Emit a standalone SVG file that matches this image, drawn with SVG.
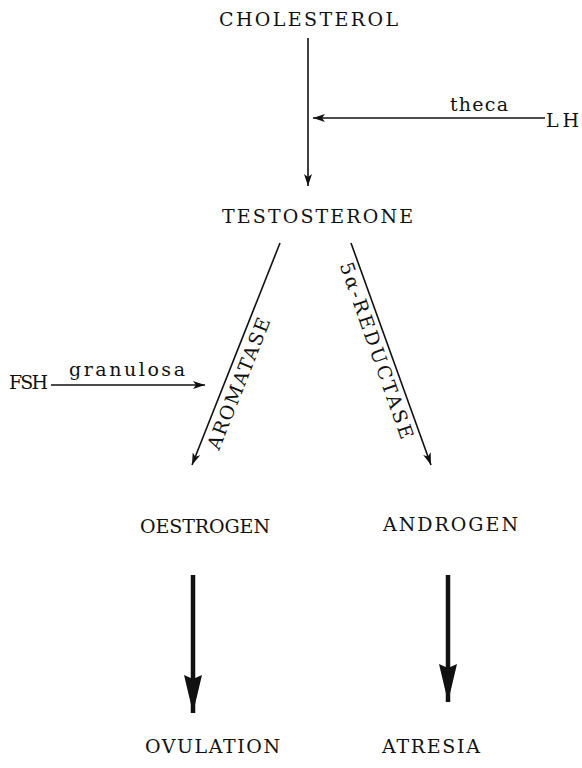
<svg xmlns="http://www.w3.org/2000/svg" width="582" height="768" viewBox="0 0 582 768">
<style>
text{font-family:"DejaVu Serif","Liberation Serif",serif;font-size:19px;fill:#111}
.thin{stroke:#111;stroke-width:1.6;fill:none}
.thick{stroke:#111;stroke-width:4.5;fill:none}
</style>
<defs>
<marker id="ah" viewBox="0 0 12 8" refX="12" refY="4" markerWidth="12" markerHeight="8" markerUnits="userSpaceOnUse" orient="auto">
<path d="M0,0 L12,4 L0,8 L3,4 Z" fill="#111"/>
</marker>
<marker id="big" viewBox="0 0 38 18" refX="38" refY="9" markerWidth="38" markerHeight="18" markerUnits="userSpaceOnUse" orient="auto">
<path d="M0,0 L38,9 L0,18 L4,9 Z" fill="#111"/>
</marker>
</defs>
<g id="connectors">
<line class="thin" x1="308" y1="38" x2="308" y2="186" marker-end="url(#ah)"/>
<line class="thin" x1="545" y1="118" x2="313" y2="118" marker-end="url(#ah)"/>
<line class="thin" x1="51" y1="385" x2="205" y2="385" marker-end="url(#ah)"/>
<line class="thin" x1="280" y1="243" x2="192" y2="465" marker-end="url(#ah)"/>
<line class="thin" x1="351" y1="243" x2="431" y2="465" marker-end="url(#ah)"/>
<line class="thick" x1="193" y1="575" x2="193" y2="713" marker-end="url(#big)"/>
<line class="thick" x1="448" y1="575" x2="448" y2="702" marker-end="url(#big)"/>
</g>
<g id="cholesterol"><text x="219" y="26" textLength="179" lengthAdjust="spacing">CHOLESTEROL</text></g>
<g id="lh"><text x="546" y="127" textLength="33" lengthAdjust="spacing">LH</text></g>
<g id="theca"><text x="450" y="111" textLength="58" lengthAdjust="spacing">theca</text></g>
<g id="testosterone"><text x="222" y="223" textLength="191" lengthAdjust="spacing">TESTOSTERONE</text></g>
<g id="fsh"><text x="9" y="389" textLength="39" lengthAdjust="spacing">FSH</text></g>
<g id="granulosa"><text x="69" y="376" textLength="116" lengthAdjust="spacing">granulosa</text></g>
<g id="aromatase"><text transform="translate(219,451) rotate(-68.4)" x="0" y="0" textLength="140" lengthAdjust="spacing">AROMATASE</text></g>
<g id="reductase"><text transform="translate(339.5,265) rotate(70.6)" x="0" y="0" textLength="186" lengthAdjust="spacing">5α-REDUCTASE</text></g>
<g id="oestrogen"><text x="140" y="533" textLength="130" lengthAdjust="spacing">OESTROGEN</text></g>
<g id="androgen"><text x="383" y="531" textLength="135" lengthAdjust="spacing">ANDROGEN</text></g>
<g id="ovulation"><text x="145" y="753" textLength="135" lengthAdjust="spacing">OVULATION</text></g>
<g id="atresia"><text x="382" y="753" textLength="98" lengthAdjust="spacing">ATRESIA</text></g>
</svg>
